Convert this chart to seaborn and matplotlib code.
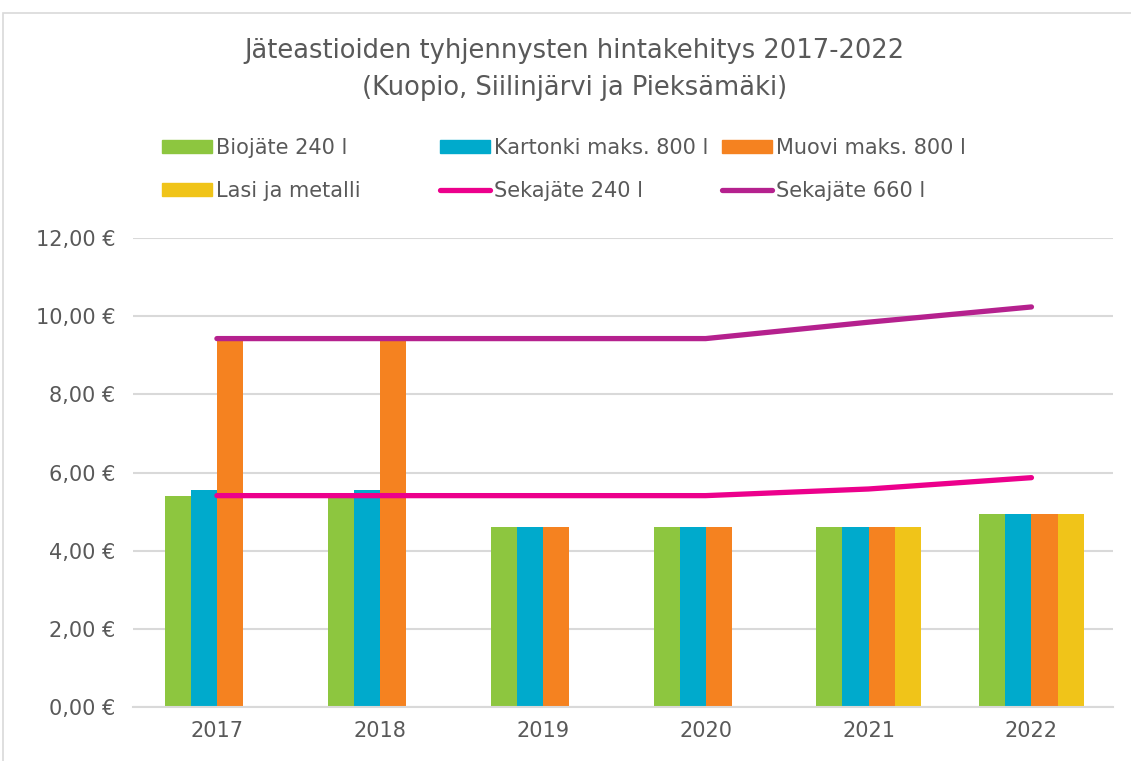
import numpy as np
import pandas as pd
import seaborn as sns
import matplotlib.pyplot as plt
from matplotlib.patches import Rectangle, Patch
from matplotlib.lines import Line2D
from matplotlib.ticker import FuncFormatter

sns.set_theme(style='white')
plt.rcParams['font.family'] = ['DejaVu Sans']

years = ['2017', '2018', '2019', '2020', '2021', '2022']
bio = [5.41, 5.36, 4.60, 4.60, 4.60, 4.93]
kartonki = [5.55, 5.55, 4.60, 4.60, 4.60, 4.93]
muovi = [9.43, 9.43, 4.60, 4.60, 4.60, 4.93]
lasi = [np.nan, np.nan, np.nan, np.nan, 4.60, 4.93]
seka240 = [5.41, 5.41, 5.41, 5.41, 5.58, 5.87]
seka660 = [9.43, 9.43, 9.43, 9.43, 9.85, 10.24]

bar_names = ['Biojäte 240 l', 'Kartonki maks. 800 l', 'Muovi maks. 800 l', 'Lasi ja metalli']
line_names = ['Sekajäte 240 l', 'Sekajäte 660 l']
bar_colors = ['#8DC63F', '#00AACC', '#F58220', '#F0C419']
line_colors = ['#EC008C', '#B5218E']

df = pd.DataFrame({'vuosi': years * 4,
                   'laji': np.repeat(bar_names, len(years)),
                   'hinta': bio + kartonki + muovi + lasi})

txt = '#595959'
fig = plt.figure(figsize=(11.31, 7.61), dpi=100)
ax = fig.add_axes([0.1176, 0.071, 0.8664, 0.616])

sns.barplot(data=df, x='vuosi', y='hinta', hue='laji', hue_order=bar_names,
            palette=bar_colors, saturation=1, width=0.64, linewidth=0, ax=ax, legend=False)

x = np.arange(len(years))
ax.plot(x, seka240, color=line_colors[0], lw=3.8, solid_capstyle='round', zorder=5)
ax.plot(x, seka660, color=line_colors[1], lw=3.8, solid_capstyle='round', zorder=5)

ax.set_ylim(0, 12)
ax.set_xlim(-0.515, 5.5)
ax.set_yticks(np.arange(0, 13, 2))
ax.yaxis.set_major_formatter(FuncFormatter(lambda v, p: f'{v:.2f} €'.replace('.', ',')))
ax.grid(axis='y', color='#D9D9D9', lw=1.5)
ax.set_axisbelow(True)
for s in ['top', 'right', 'left']:
    ax.spines[s].set_visible(False)
ax.spines['bottom'].set_color('#D9D9D9')
ax.spines['bottom'].set_linewidth(1.5)
ax.tick_params(axis='both', length=0, labelsize=15, labelcolor=txt)
ax.tick_params(axis='y', pad=12.5)
ax.tick_params(axis='x', pad=10)
ax.set_xlabel('')
ax.set_ylabel('')

fig.text(0.508, 0.909, 'Jäteastioiden tyhjennysten hintakehitys 2017-2022\n(Kuopio, Siilinjärvi ja Pieksämäki)',
         ha='center', va='center', fontsize=18.5, color=txt, linespacing=1.55)

# legend: three columns placed separately
h = [Patch(color=c) for c in bar_colors]
l = [Line2D([], [], color=c, lw=3.8, solid_capstyle='round') for c in line_colors]
cols = [([h[0], h[3]], [bar_names[0], bar_names[3]], 162),
        ([h[1], l[0]], [bar_names[1], line_names[0]], 440),
        ([h[2], l[1]], [bar_names[2], line_names[1]], 722)]
for hs, ls, xp in cols:
    leg = fig.legend(hs, ls, loc='upper left', bbox_to_anchor=(xp / 1131, 1 - 138 / 761),
                     frameon=False, fontsize=15, handlelength=2.4, handleheight=0.62,
                     handletextpad=0.2, labelspacing=1.1, borderpad=0, borderaxespad=0)
    for t in leg.get_texts():
        t.set_color(txt)

fig.patches.append(Rectangle((0.003, -0.1), 1.2, 1.083, transform=fig.transFigure,
                             fill=False, edgecolor='#D9D9D9', lw=1.2))

fig.savefig('out.png', dpi=100)
